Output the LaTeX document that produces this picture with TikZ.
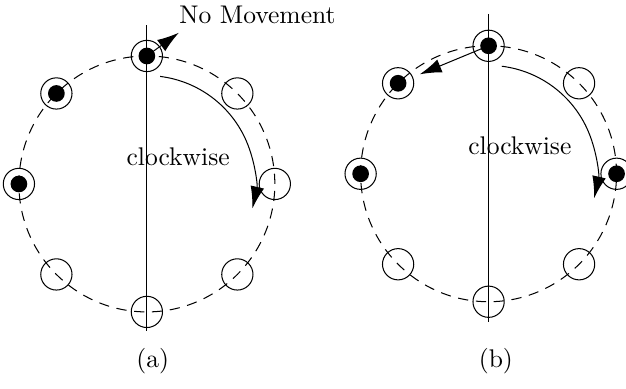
\documentclass[tikz,border=0pt]{standalone}
\usetikzlibrary{arrows.meta}

\tikzset{
  ring/.style={thin,dash pattern=on 4pt off 3pt},
  slot/.style={circle,draw,thin,minimum size=4.3mm,inner sep=0pt},
  busy/.style={slot,path picture={\fill (path picture bounding box.center) circle (1.15mm);}},
  tip/.style={thin,-{Latex[length=3mm,width=1.9mm]}},
}

\begin{document}
\begin{tikzpicture}[scale=1.0]
  \useasboundingbox (0,0) rectangle (8.61,5.34);
  % (a) token does not move
  \begin{scope}[shift={(2.02,2.81)}]
    \draw[ring] (0,0) circle (1.76);
    \draw[thin] (0,2.18) -- (0,-2.02);
    \foreach \ang/\nm in {90/t,135/ul,180/l}
      \node[busy] (a-\nm) at (\ang:1.76) {};
    \foreach \ang/\nm in {45/ur,0/r,-45/lr,-90/b,-135/ll}
      \node[slot] (a-\nm) at (\ang:1.76) {};
    \draw[tip] (83:1.49) arc (83:-13:1.49);
    \node (a-cw) at (0.43,0.37) {clockwise};
    \coordinate (a-nm) at (0.44,2.08);
    \draw[tip] (a-t.center) -- (a-nm);
    \node[anchor=west,inner sep=0pt] (a-nmtxt) at (0.44,2.33) {No Movement};
    \node (a-cap) at (0.08,-2.44) {(a)};
  \end{scope}
  % (b) token moves back
  \begin{scope}[shift={(6.72,2.95)}]
    \draw[ring] (0,0) circle (1.76);
    \draw[thin] (0,2.2) -- (0,-2.04);
    \foreach \ang/\nm in {90/t,135/ul,180/l,0/r}
      \node[busy] (b-\nm) at (\ang:1.76) {};
    \foreach \ang/\nm in {45/ur,-45/lr,-90/b,-135/ll}
      \node[slot] (b-\nm) at (\ang:1.76) {};
    \draw[tip] (83:1.49) arc (83:-13:1.49);
    \node (b-cw) at (0.43,0.39) {clockwise};
    \draw[tip,shorten >=1mm] (b-t.center) -- (b-ul);
    \node (b-cap) at (0.1,-2.57) {(b)};
  \end{scope}
\end{tikzpicture}
\end{document}
